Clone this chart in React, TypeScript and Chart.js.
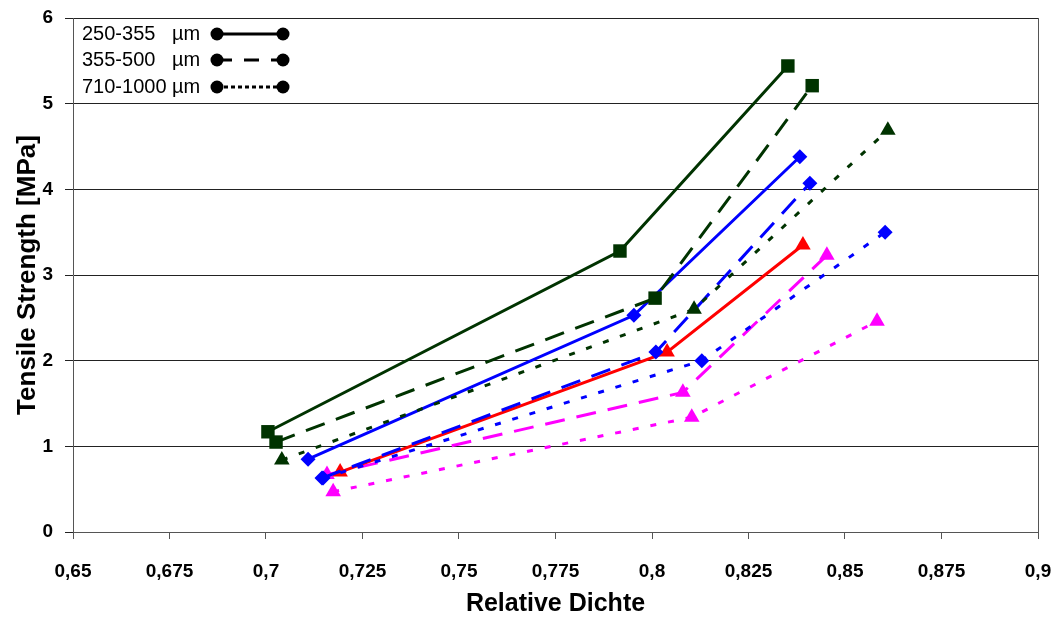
import React, { useEffect, useRef } from "react";
import { Chart, registerables } from "chart.js";

Chart.register(...registerables);

// ---- data ----
const xGreen250 = [0.7005, 0.7917, 0.8352];
const yGreen250 = [1.17, 3.28, 5.44];
const xGreen355 = [0.7026, 0.8008, 0.8415];
const yGreen355 = [1.05, 2.73, 5.21];
const xGreen710 = [0.7041, 0.8109, 0.8611];
const yGreen710 = [0.84, 2.6, 4.69];

const xBlue250 = [0.7109, 0.7953, 0.8383];
const yBlue250 = [0.85, 2.53, 4.38];
const xBlue355 = [0.7145, 0.801, 0.8409];
const yBlue355 = [0.63, 2.1, 4.07];
const xBlue710 = [0.7148, 0.8129, 0.8604];
const yBlue710 = [0.63, 2.0, 3.5];

const xRed250 = [0.7192, 0.8039, 0.8391];
const yRed250 = [0.7, 2.1, 3.35];
const xMag355 = [0.7158, 0.808, 0.8453];
const yMag355 = [0.67, 1.63, 3.23];
const xMag710 = [0.7174, 0.8103, 0.8583];
const yMag710 = [0.47, 1.34, 2.46];

const legendLabels = ["250-355   µm", "355-500   µm", "710-1000 µm"];
const xTitle = "Relative Dichte";
const yTitle = "Tensile Strength [MPa]";

const FONT = "'Liberation Sans', Arial, Helvetica, sans-serif";
const DASHED = [20, 12];
const DOTTED = [6, 12];

function pts(xs: number[], ys: number[]) {
  return xs.map((x, i) => ({ x, y: ys[i] }));
}

function ds(xs: number[], ys: number[], color: string, dash: number[], style: string, radius: number) {
  return {
    data: pts(xs, ys),
    showLine: true,
    borderColor: color,
    backgroundColor: color,
    borderWidth: 3,
    borderDash: dash,
    pointStyle: style,
    pointRadius: radius,
    pointHoverRadius: radius,
    pointBorderWidth: 0,
    pointBackgroundColor: color,
    pointBorderColor: color,
  };
}

const legendPlugin = {
  id: "customLegend",
  afterDraw(chart: any) {
    const ctx = chart.ctx;
    const dashes = [[], [15, 12], [4, 3]];
    const rows = [34, 60, 87];
    ctx.save();
    ctx.font = `20px ${FONT}`;
    ctx.fillStyle = "#000";
    ctx.textBaseline = "middle";
    ctx.textAlign = "left";
    rows.forEach((y, i) => {
      ctx.fillText(legendLabels[i], 82, y);
      ctx.strokeStyle = "#000";
      ctx.lineWidth = 3;
      ctx.setLineDash(dashes[i]);
      ctx.beginPath();
      ctx.moveTo(217, y);
      ctx.lineTo(283, y);
      ctx.stroke();
      ctx.setLineDash([]);
      ctx.beginPath();
      ctx.arc(217, y, 6.5, 0, Math.PI * 2);
      ctx.fill();
      ctx.beginPath();
      ctx.arc(283, y, 6.5, 0, Math.PI * 2);
      ctx.fill();
    });
    ctx.restore();
  },
};

const borderPlugin = {
  id: "rightBorder",
  beforeDatasetsDraw(chart: any) {
    const { ctx, chartArea } = chart;
    ctx.save();
    ctx.strokeStyle = "#555";
    ctx.lineWidth = 1;
    ctx.beginPath();
    ctx.moveTo(Math.round(chartArea.right) + 0.5, chartArea.top);
    ctx.lineTo(Math.round(chartArea.right) + 0.5, chartArea.bottom);
    ctx.stroke();
    ctx.restore();
  },
};

function fmt(v: number) {
  return String(Number(v.toFixed(3))).replace(".", ",");
}

export default function App() {
  const ref = useRef<HTMLCanvasElement>(null);
  useEffect(() => {
    const canvas = ref.current;
    if (!canvas) return;
    const DG = "#003300";
    const BL = "#0000FF";
    const RD = "#FF0000";
    const MG = "#FF00FF";
    const chart = new Chart(canvas, {
      type: "scatter",
      data: {
        datasets: [
          ds(xGreen250, yGreen250, DG, [], "rect", 9.5),
          ds(xGreen355, yGreen355, DG, DASHED, "rect", 9.5),
          ds(xGreen710, yGreen710, DG, DOTTED, "triangle", 9),
          ds(xBlue250, yBlue250, BL, [], "rectRot", 7.5),
          ds(xBlue355, yBlue355, BL, DASHED, "rectRot", 7.5),
          ds(xBlue710, yBlue710, BL, DOTTED, "rectRot", 7.5),
          ds(xRed250, yRed250, RD, [], "triangle", 9),
          ds(xMag355, yMag355, MG, DASHED, "triangle", 9),
          ds(xMag710, yMag710, MG, DOTTED, "triangle", 9),
        ] as any,
      },
      options: {
        responsive: false,
        animation: false,
        layout: { padding: { top: 18, right: 24, left: 0, bottom: 0 } },
        plugins: { legend: { display: false }, tooltip: { enabled: false } },
        scales: {
          x: {
            type: "linear",
            min: 0.65,
            max: 0.9,
            afterFit: (s: any) => {
              s.height = 87;
              s.paddingLeft = 0;
              s.paddingRight = 0;
              s.paddingTop = 0;
              s.paddingBottom = 0;
            },
            ticks: {
              stepSize: 0.025,
              padding: 21,
              color: "#000",
              font: { family: FONT, size: 19, weight: "bold" },
              callback: (v: any) => fmt(Number(v)),
              maxRotation: 0,
              autoSkip: false,
            },
            grid: { drawOnChartArea: false, drawTicks: true, tickLength: 7, color: "#555" },
            border: { color: "#555", width: 1 },
            title: {
              display: true,
              text: xTitle,
              color: "#000",
              font: { family: FONT, size: 25, weight: "bold" },
              padding: { top: 0, bottom: 0 },
            },
          },
          y: {
            type: "linear",
            min: 0,
            max: 6,
            afterFit: (s: any) => {
              s.width = 73;
              s.paddingLeft = 0;
              s.paddingRight = 0;
              s.paddingTop = 0;
              s.paddingBottom = 0;
            },
            ticks: {
              stepSize: 1,
              padding: 12,
              color: "#000",
              font: { family: FONT, size: 19, weight: "bold" },
            },
            grid: { color: "#222", lineWidth: 1, drawTicks: true, tickLength: 8 },
            border: { color: "#555", width: 1 },
            title: {
              display: true,
              text: yTitle,
              color: "#000",
              font: { family: FONT, size: 26, weight: "bold" },
              padding: { top: 12, bottom: 0 },
            },
          },
        },
      },
      plugins: [borderPlugin, legendPlugin],
    });
    return () => chart.destroy();
  }, []);
  return (
    <div style={{ position: "fixed", left: 0, top: 0, width: 1062, height: 619, background: "#fff" }}>
      <canvas ref={ref} width={1062} height={619} />
    </div>
  );
}
